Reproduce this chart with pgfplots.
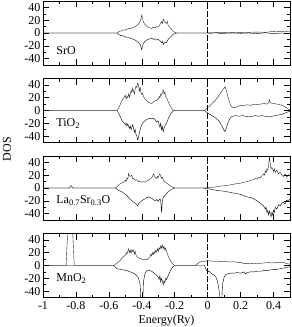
\documentclass[border=0pt]{standalone}
\usepackage{fontspec}
\setmainfont{Liberation Serif}
\usepackage{pgfplots}
\pgfplotsset{compat=1.18}
\usepgfplotslibrary{groupplots}
\usetikzlibrary{calc}
\begin{document}
\begin{tikzpicture}[font=\fontsize{12bp}{14bp}\selectfont]
\begin{groupplot}[
  group style={group size=1 by 4, vertical sep=13.5bp, xticklabels at=edge bottom},
  width=247bp, height=64bp, scale only axis,
  xmin=-1, xmax=0.5, ymin=-50, ymax=50,
  xtick={-1,-0.8,-0.6,-0.4,-0.2,0,0.2,0.4},
  ytick={-40,-20,0,20,40},
  minor x tick num=1, minor y tick num=1,
  tick align=inside, major tick length=6bp, minor tick length=3bp,
  /pgf/number format/assume math mode=true,
  axis line style={line width=0.8pt},
  every tick/.style={black, line width=0.6pt},
  yticklabel style={xshift=1bp},
  xticklabel style={yshift=-0.5bp},
  cycle list={{black!85, no markers, line width=0.65pt}},
]
% ---------------- SrO
\nextgroupplot
\addplot coordinates {(-1,0) (-0.55,0) (-0.54,2) (-0.53,3) (-0.52,3.5) (-0.51,5) (-0.50,4.5) (-0.49,6) (-0.48,7) (-0.47,6.5) (-0.46,8) (-0.45,9) (-0.44,10) (-0.43,12) (-0.42,14) (-0.41,18) (-0.40,28) (-0.395,22) (-0.39,17) (-0.38,13) (-0.37,11) (-0.36,9) (-0.35,8) (-0.34,7) (-0.33,9) (-0.32,8) (-0.31,10) (-0.30,9) (-0.29,13) (-0.28,18) (-0.275,15) (-0.27,22) (-0.265,19) (-0.26,17) (-0.25,15) (-0.245,18) (-0.24,12) (-0.23,9) (-0.22,6) (-0.21,3) (-0.20,1) (-0.19,0) (0,0) (0.02,0.5) (0.05,0.3) (0.08,1) (0.1,0.5) (0.15,1) (0.2,0.5) (0.25,1) (0.3,1.5) (0.35,1) (0.4,2.5) (0.45,2) (0.5,3)};
\addplot coordinates {(-1,0) (-0.55,0) (-0.54,-2) (-0.53,-4) (-0.52,-4) (-0.51,-5) (-0.50,-6) (-0.49,-7) (-0.48,-7) (-0.47,-8) (-0.46,-9) (-0.45,-10) (-0.44,-11) (-0.43,-13) (-0.42,-15) (-0.41,-18) (-0.40,-26) (-0.395,-20) (-0.39,-16) (-0.38,-13) (-0.37,-11) (-0.36,-10) (-0.35,-9) (-0.34,-8) (-0.33,-10) (-0.32,-9) (-0.31,-11) (-0.30,-10) (-0.29,-12) (-0.28,-15) (-0.275,-13) (-0.27,-18) (-0.265,-16) (-0.26,-14) (-0.25,-15) (-0.24,-10) (-0.23,-7) (-0.22,-5) (-0.21,-2) (-0.20,-1) (-0.19,0) (0,0) (0.02,-0.5) (0.05,0.5) (0.08,-1) (0.1,-0.5) (0.15,0) (0.2,-0.5) (0.25,0) (0.3,-1) (0.35,0.5) (0.4,-1) (0.45,0) (0.5,-1)};
\addplot[black, line width=0.5pt, dash pattern=on 6bp off 2bp] coordinates {(0,-50) (0,50)};
\node[anchor=west] at (axis cs:-0.94,-27) {SrO};
% ---------------- TiO2
\nextgroupplot
\addplot coordinates {(-1,0) (-0.55,0) (-0.54,4) (-0.53,10) (-0.52,16) (-0.51,20) (-0.50,24) (-0.495,18) (-0.49,22) (-0.485,20) (-0.48,26) (-0.475,21) (-0.47,25) (-0.465,32) (-0.46,28) (-0.455,35) (-0.45,30) (-0.445,26) (-0.44,34) (-0.435,38) (-0.43,36) (-0.425,43) (-0.42,40) (-0.415,30) (-0.41,36) (-0.405,28) (-0.40,25) (-0.395,27) (-0.39,22) (-0.38,18) (-0.37,15) (-0.36,13) (-0.35,12) (-0.34,11) (-0.33,13) (-0.32,15) (-0.31,16) (-0.30,18) (-0.295,22) (-0.29,20) (-0.285,26) (-0.28,24) (-0.275,28) (-0.27,32) (-0.265,26) (-0.26,29) (-0.255,22) (-0.25,20) (-0.24,14) (-0.23,8) (-0.22,4) (-0.21,1) (-0.20,0) (-0.02,0) (-0.01,2) (0,5) (0.01,6) (0.02,9) (0.03,12) (0.04,14) (0.05,17) (0.06,20) (0.07,24) (0.08,28) (0.09,32) (0.10,35) (0.105,37) (0.11,34) (0.12,25) (0.13,15) (0.14,8) (0.15,5) (0.16,4) (0.17,5) (0.18,6) (0.19,7) (0.20,8) (0.22,8) (0.24,9) (0.26,8) (0.28,10) (0.30,9) (0.32,10) (0.34,11) (0.36,10) (0.37,12) (0.375,17) (0.38,12) (0.40,11) (0.42,10) (0.44,9) (0.46,7) (0.48,4) (0.5,1)};
\addplot coordinates {(-1,0) (-0.55,0) (-0.54,-5) (-0.53,-10) (-0.52,-16) (-0.51,-19) (-0.50,-22) (-0.495,-20) (-0.49,-24) (-0.485,-21) (-0.48,-25) (-0.475,-28) (-0.47,-24) (-0.465,-30) (-0.46,-26) (-0.455,-22) (-0.45,-28) (-0.445,-34) (-0.44,-30) (-0.435,-38) (-0.43,-40) (-0.425,-46) (-0.42,-42) (-0.415,-35) (-0.41,-30) (-0.405,-25) (-0.40,-22) (-0.39,-18) (-0.38,-16) (-0.37,-14) (-0.36,-13) (-0.35,-12) (-0.34,-13) (-0.33,-12) (-0.32,-14) (-0.31,-18) (-0.30,-16) (-0.295,-22) (-0.29,-26) (-0.285,-20) (-0.28,-30) (-0.275,-25) (-0.27,-33) (-0.265,-28) (-0.26,-24) (-0.25,-20) (-0.24,-13) (-0.23,-8) (-0.22,-4) (-0.21,-1) (-0.20,0) (-0.02,0) (-0.01,-2) (0,-4) (0.02,-7) (0.04,-10) (0.06,-14) (0.07,-17) (0.08,-21) (0.09,-26) (0.10,-31) (0.105,-33) (0.11,-30) (0.12,-22) (0.13,-15) (0.14,-11) (0.15,-9) (0.17,-8) (0.19,-9) (0.21,-8) (0.23,-9) (0.25,-10) (0.27,-9) (0.29,-8) (0.31,-9) (0.33,-8) (0.35,-9) (0.37,-10) (0.39,-9) (0.41,-8) (0.43,-7) (0.45,-6) (0.47,-4) (0.49,-2) (0.5,-1)};
\addplot[black, line width=0.5pt, dash pattern=on 6bp off 2bp] coordinates {(0,-50) (0,50)};
\node[anchor=west] at (axis cs:-0.94,-20) {TiO\textsubscript{2}};
% ---------------- La0.7Sr0.3O
\nextgroupplot
\addplot coordinates {(-1,0) (-0.845,0) (-0.835,2) (-0.83,4) (-0.825,2) (-0.815,0) (-0.56,0) (-0.55,2) (-0.54,5) (-0.53,7) (-0.52,8) (-0.51,9) (-0.50,12) (-0.495,10) (-0.49,16) (-0.485,14) (-0.48,23) (-0.475,19) (-0.47,18) (-0.46,20) (-0.455,14) (-0.45,15) (-0.44,12) (-0.43,13) (-0.42,10) (-0.41,11) (-0.40,9) (-0.39,10) (-0.38,9) (-0.37,11) (-0.36,12) (-0.35,14) (-0.34,16) (-0.335,18) (-0.33,22) (-0.325,20) (-0.32,17) (-0.31,15) (-0.305,18) (-0.30,16) (-0.295,20) (-0.29,22) (-0.285,18) (-0.28,15) (-0.275,17) (-0.27,12) (-0.26,10) (-0.25,8) (-0.24,6) (-0.23,4) (-0.22,2) (-0.21,1) (-0.20,0) (-0.03,0) (0,0.5) (0.02,1) (0.04,1.5) (0.06,2) (0.08,3) (0.10,3.5) (0.12,4) (0.14,5) (0.16,6) (0.18,7) (0.20,7.5) (0.22,9) (0.24,10) (0.26,12) (0.28,13) (0.29,15) (0.30,14) (0.31,17) (0.32,16) (0.33,19) (0.34,22) (0.345,20) (0.35,27) (0.355,24) (0.36,30) (0.365,28) (0.37,35) (0.375,50) (0.38,38) (0.385,30) (0.39,32) (0.40,26) (0.405,30) (0.41,24) (0.42,28) (0.43,22) (0.44,25) (0.45,20) (0.46,18) (0.47,22) (0.48,17) (0.49,21) (0.5,19)};
\addplot coordinates {(-1,0) (-0.56,0) (-0.55,-2) (-0.54,-4) (-0.53,-5) (-0.52,-6) (-0.51,-8) (-0.50,-10) (-0.49,-12) (-0.48,-15) (-0.47,-18) (-0.46,-20) (-0.45,-22) (-0.44,-24) (-0.43,-26) (-0.425,-28) (-0.42,-25) (-0.41,-22) (-0.40,-20) (-0.39,-18) (-0.38,-17) (-0.37,-15) (-0.36,-14) (-0.35,-15) (-0.34,-16) (-0.33,-18) (-0.32,-20) (-0.31,-18) (-0.30,-21) (-0.29,-17) (-0.285,-20) (-0.28,-38) (-0.275,-20) (-0.27,-15) (-0.26,-12) (-0.25,-9) (-0.24,-6) (-0.23,-4) (-0.22,-2) (-0.21,-1) (-0.20,0) (-0.03,0) (0,-1) (0.02,-2) (0.04,-3) (0.06,-4) (0.08,-4.5) (0.10,-5) (0.12,-6) (0.14,-7) (0.16,-8) (0.18,-9) (0.20,-10) (0.22,-12) (0.24,-14) (0.26,-15) (0.28,-17) (0.30,-20) (0.31,-22) (0.32,-24) (0.33,-26) (0.34,-28) (0.35,-33) (0.355,-30) (0.36,-38) (0.365,-35) (0.37,-42) (0.375,-36) (0.38,-40) (0.385,-45) (0.39,-38) (0.395,-42) (0.40,-35) (0.405,-38) (0.41,-30) (0.42,-33) (0.43,-26) (0.44,-28) (0.45,-24) (0.46,-22) (0.47,-25) (0.48,-19) (0.49,-20) (0.5,-17)};
\addplot[black, line width=0.5pt, dash pattern=on 6bp off 2bp] coordinates {(0,-50) (0,50)};
\node[anchor=west] at (axis cs:-0.94,-20) {La\textsubscript{0.7}Sr\textsubscript{0.3}O};
% ---------------- MnO2
\nextgroupplot[xlabel={Energy(Ry)}, xlabel style={yshift=1.5bp}]
\addplot coordinates {(-1,0) (-0.86,0) (-0.845,80) (-0.835,60) (-0.825,80) (-0.81,0) (-0.57,0) (-0.56,2) (-0.55,4) (-0.54,6) (-0.53,8) (-0.52,12) (-0.51,14) (-0.50,16) (-0.495,20) (-0.49,18) (-0.485,22) (-0.48,26) (-0.475,20) (-0.47,24) (-0.465,19) (-0.46,25) (-0.455,22) (-0.45,24) (-0.445,18) (-0.44,22) (-0.435,16) (-0.43,14) (-0.42,12) (-0.41,11) (-0.40,10) (-0.39,9) (-0.38,10) (-0.37,9) (-0.36,11) (-0.35,14) (-0.345,18) (-0.34,15) (-0.335,20) (-0.33,17) (-0.325,22) (-0.32,19) (-0.315,24) (-0.31,21) (-0.305,26) (-0.30,22) (-0.295,28) (-0.29,25) (-0.285,31) (-0.28,27) (-0.275,32) (-0.27,26) (-0.265,30) (-0.26,24) (-0.255,27) (-0.25,22) (-0.24,15) (-0.23,9) (-0.22,5) (-0.21,2) (-0.20,0) (-0.08,0) (-0.07,1) (-0.06,3) (-0.05,5) (-0.04,6) (-0.03,7) (-0.02,6.5) (-0.01,7) (0,7.5) (0.02,7) (0.04,6.5) (0.06,7) (0.08,6) (0.10,6.5) (0.12,6) (0.14,5.5) (0.16,6) (0.18,5) (0.20,5) (0.21,4) (0.22,3) (0.25,3) (0.28,3.5) (0.31,3) (0.34,4) (0.37,4.5) (0.40,4) (0.42,5) (0.44,4.5) (0.46,5) (0.48,3) (0.5,2)};
\addplot coordinates {(-1,0) (-0.57,0) (-0.56,-3) (-0.55,-5) (-0.53,-6) (-0.51,-7) (-0.49,-8) (-0.47,-10) (-0.45,-12) (-0.43,-16) (-0.42,-20) (-0.41,-30) (-0.405,-60) (-0.395,-60) (-0.39,-25) (-0.38,-12) (-0.37,-8) (-0.36,-7) (-0.35,-8) (-0.34,-9) (-0.33,-11) (-0.32,-13) (-0.31,-15) (-0.30,-18) (-0.295,-22) (-0.29,-16) (-0.285,-26) (-0.28,-20) (-0.275,-24) (-0.27,-30) (-0.265,-24) (-0.26,-27) (-0.255,-20) (-0.25,-22) (-0.24,-16) (-0.23,-10) (-0.22,-5) (-0.21,-2) (-0.20,0) (-0.02,0) (-0.01,-6) (0,-10) (0.01,-9) (0.02,-12) (0.03,-14) (0.04,-15) (0.05,-18) (0.06,-25) (0.07,-40) (0.075,-60) (0.085,-60) (0.09,-30) (0.10,-18) (0.11,-14) (0.12,-13) (0.14,-12) (0.16,-12) (0.18,-11) (0.20,-12) (0.22,-10) (0.23,-13) (0.24,-11) (0.26,-10) (0.28,-10) (0.30,-9) (0.32,-9) (0.34,-8) (0.36,-8) (0.38,-7) (0.40,-6) (0.42,-6) (0.44,-5) (0.46,-4) (0.48,-3) (0.5,-2)};
\addplot[black, line width=0.5pt, dash pattern=on 6bp off 2bp] coordinates {(0,-50) (0,50)};
\node[anchor=west] at (axis cs:-0.94,-20) {MnO\textsubscript{2}};
\end{groupplot}
\node[rotate=90, inner sep=0pt] at ($(group c1r2.south west)!0.5!(group c1r3.north west)+(-36bp,0)$) {DOS};
\pgfresetboundingbox
\path[use as bounding box] ($(group c1r1.north west)+(-43bp,1bp)$) rectangle ($(group c1r4.south east)+(2bp,-29.5bp)$);
\end{tikzpicture}
\end{document}
